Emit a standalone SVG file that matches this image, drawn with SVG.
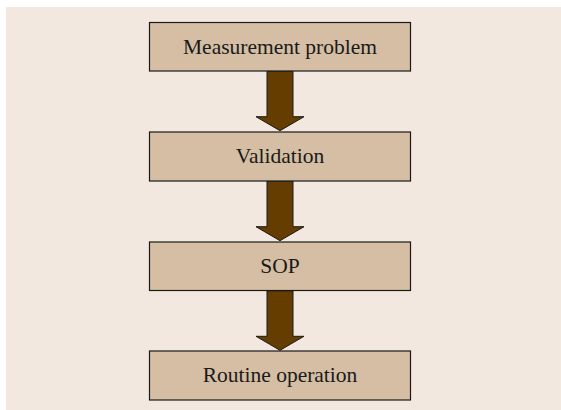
<svg xmlns="http://www.w3.org/2000/svg" width="561" height="410" viewBox="0 0 561 410">
  <style>
    .box { fill: #D5BEA3; stroke: #1a1a1a; stroke-width: 1.2; }
    .lbl { font-family: "Liberation Serif", "Times New Roman", serif; font-size: 21.5px; fill: #1a1a1a; text-anchor: middle; }
    .arrow { fill: #663D00; stroke: #1a1a1a; stroke-width: 1; stroke-linejoin: miter; }
  </style>
  <defs>
    <!-- block arrow, drawn from the bottom of one box (y=0) to the top of the next -->
    <path id="blockArrow" d="M267,0 L293,0 L293,45.5 L304,45.5 L280,59.5 L256,45.5 L267,45.5 Z"/>
  </defs>
  <rect x="6" y="7" width="555" height="403" fill="#F2E8DF"/>

  <g id="connectors">
    <use href="#blockArrow" class="arrow" transform="translate(0,71.2)"/>
    <use href="#blockArrow" class="arrow" transform="translate(0,181.2)"/>
    <use href="#blockArrow" class="arrow" transform="translate(0,290.8)"/>
  </g>

  <g id="measurement-problem">
    <rect class="box" x="149.5" y="22.5" width="261" height="48.5"/>
    <text class="lbl" x="280" y="53.5">Measurement problem</text>
  </g>
  <g id="validation">
    <rect class="box" x="149.5" y="132" width="261" height="49"/>
    <text class="lbl" x="280" y="163">Validation</text>
  </g>
  <g id="sop">
    <rect class="box" x="149.5" y="242" width="261" height="48.5"/>
    <text class="lbl" x="280" y="273">SOP</text>
  </g>
  <g id="routine-operation">
    <rect class="box" x="149.5" y="351" width="261" height="49"/>
    <text class="lbl" x="280" y="382">Routine operation</text>
  </g>
</svg>
